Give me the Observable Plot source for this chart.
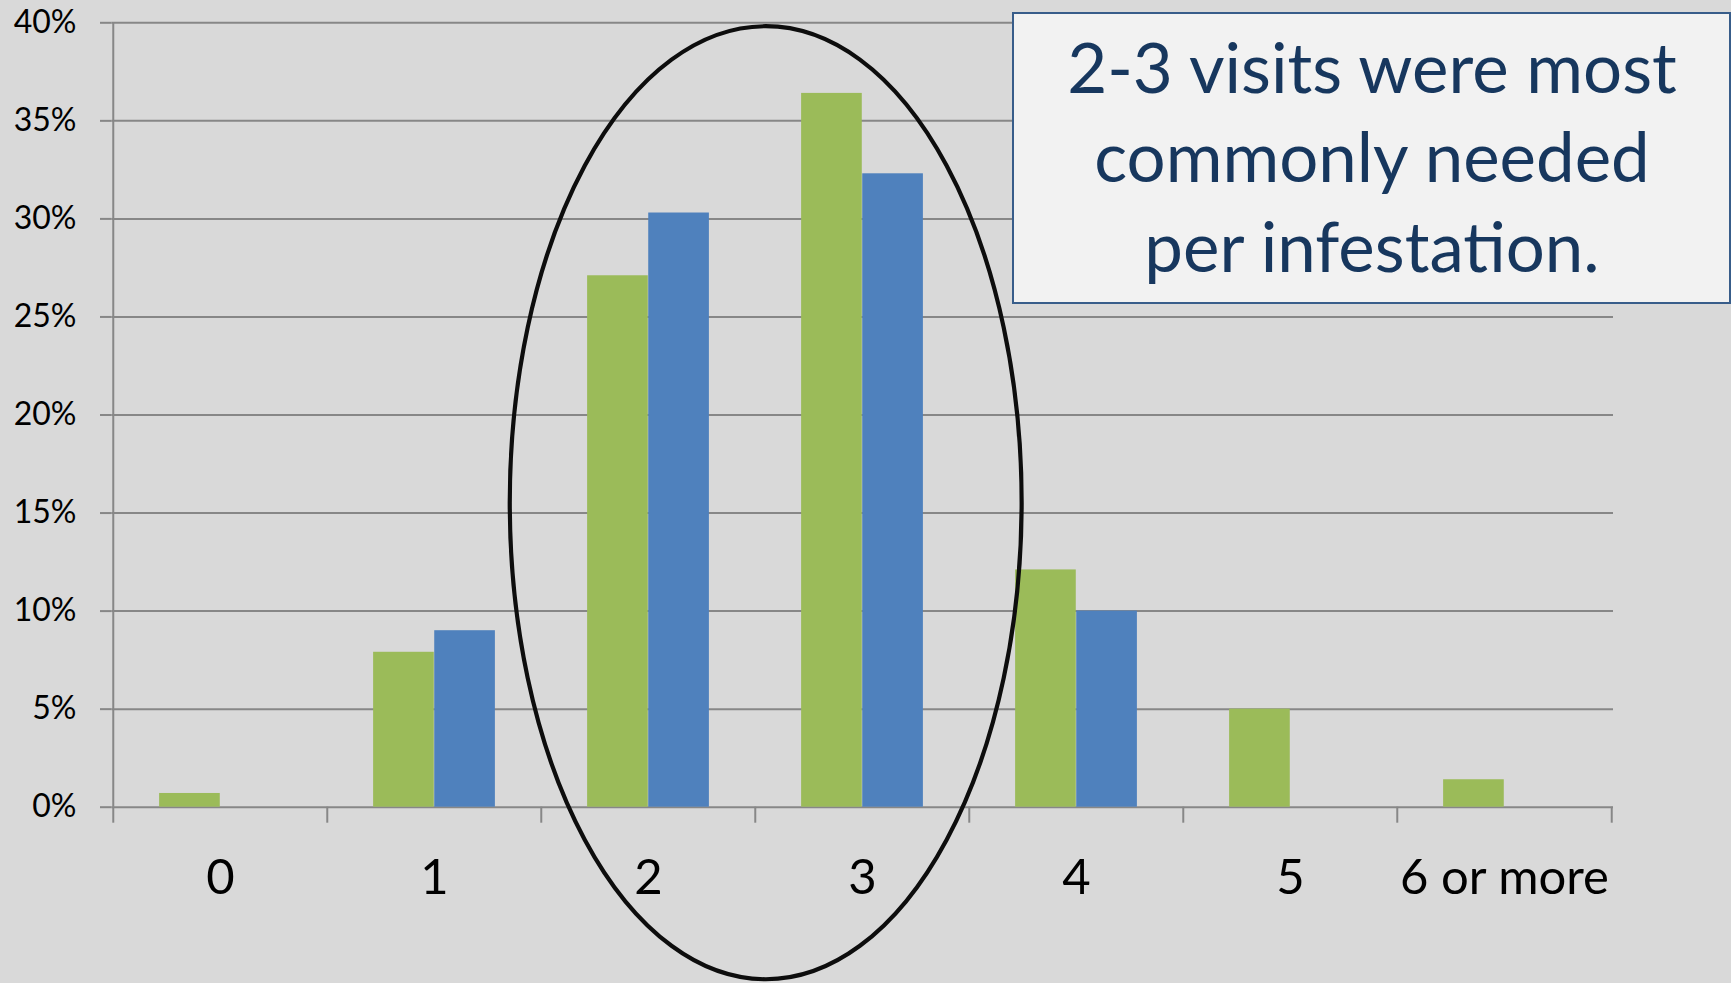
<!DOCTYPE html>
<html>
<head>
<meta charset="utf-8">
<script src="https://cdn.jsdelivr.net/npm/d3@7"></script>
<script src="https://cdn.jsdelivr.net/npm/@observablehq/plot@0.6"></script>
<style>
  html, body { margin: 0; padding: 0; background: #d9d9d9; }
  #chart { width: 1731px; height: 983px; overflow: hidden; }
</style>
</head>
<body>
<div id="chart"></div>
<script>
// Number of visits needed per infestation (share of infestations, %)
const visits = ["0", "1", "2", "3", "4", "5", "6 or more"];
const shareGreen = [0.7, 7.9, 27.1, 36.4, 12.1, 5.0, 1.4];
const shareBlue = [0, 9.0, 30.3, 32.3, 10.0, 0, 0];
const percentTicks = [0, 5, 10, 15, 20, 25, 30, 35, 40];
const calloutLines = ["2-3 visits were most", "commonly needed", "per infestation."];

const rows = visits.map((v, i) => ({visits: v, green: shareGreen[i], blue: shareBlue[i]}));

const W = 1731, H = 983;
const ML = 111.7, MR = 118, MT = 22.3, MB = 176.3;
const band = (W - ML - MR) / visits.length;
const barW = band * 0.285;
const outer = band / 2 - barW;

const gridColor = "#878787";

// Ellipse highlighting the 2–3 visit groups
function highlightEllipse(index, {x, y}) {
  const bw = x(visits[4]) - x(visits[3]);
  return d3.create("svg:ellipse")
    .attr("cx", x(visits[3]) + 0.05 * bw)
    .attr("cy", y(15.5))
    .attr("rx", 1.196 * bw)
    .attr("ry", y(0) - y(24.3))
    .attr("fill", "none")
    .attr("stroke", "#0d0d0d")
    .attr("stroke-width", 4.2)
    .node();
}

// Call-out box in the upper right corner
function callout() {
  const g = d3.create("svg:g");
  g.append("rect")
    .attr("x", 1013).attr("y", 13)
    .attr("width", 717).attr("height", 290)
    .attr("fill", "#f2f2f2")
    .attr("stroke", "#385d8a")
    .attr("stroke-width", 2);
  g.selectAll("text")
    .data(calloutLines)
    .join("text")
    .attr("x", 1372)
    .attr("y", (d, i) => 92.7 + i * 89.5)
    .attr("text-anchor", "middle")
    .attr("font-size", 69)
    .attr("fill", "#17375e")
    .text(d => d);
  return g.node();
}

const chart = Plot.plot({
  width: W,
  height: H,
  marginLeft: ML,
  marginRight: MR,
  marginTop: MT,
  marginBottom: MB,
  style: {background: "#d9d9d9", fontFamily: "Lato", overflow: "visible", color: "#000"},
  x: {type: "band", domain: visits, padding: 0, axis: null, label: null},
  y: {domain: [0, 40], axis: null, label: null},
  marks: [
    Plot.gridY(percentTicks, {stroke: gridColor, strokeOpacity: 1, strokeWidth: 2}),
    Plot.barY(rows, {x: "visits", y: "green", fill: "#9bbb59", insetLeft: outer, insetRight: band / 2}),
    Plot.barY(rows, {x: "visits", y: "blue", fill: "#4f81bd", insetLeft: band / 2, insetRight: outer}),
    // vertical value axis line
    Plot.ruleX([visits[0]], {dx: -band / 2, y1: 0, y2: 40, stroke: gridColor, strokeWidth: 2}),
    Plot.axisY(percentTicks, {
      label: null, tickSize: 11.7, tickPadding: 24, tickFormat: d => d + "%",
      fontSize: 32, stroke: gridColor, strokeWidth: 2, fill: "#000"
    }),
    // category boundary tick marks
    Plot.axisX(visits, {label: null, tickSize: 16, dx: -band / 2, tickFormat: () => "", stroke: gridColor, strokeWidth: 2}),
    Plot.axisX([visits[visits.length - 1]], {label: null, tickSize: 16, dx: band / 2, tickFormat: () => "", stroke: gridColor, strokeWidth: 2}),
    Plot.axisX(visits, {label: null, tickSize: 0, tickPadding: 51.6, fontSize: 49, fill: "#000"}),
    highlightEllipse,
    callout
  ]
});

document.getElementById("chart").appendChild(chart);
</script>
</body>
</html>
